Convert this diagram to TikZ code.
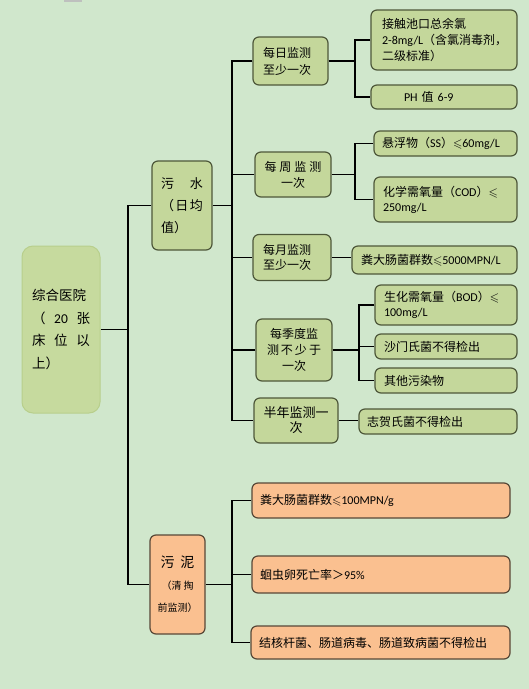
\documentclass[tikz,border=0pt]{standalone}
\usepackage{fontspec}
\usepackage{amssymb}
\setmainfont{Noto Sans CJK SC}
\newfontfamily\latfont{Carlito}
\newcommand{\ltx}[1]{\mbox{\latfont #1}}
\newcommand{\myleq}{\ensuremath{\leqslant}}
\definecolor{bgc}{RGB}{208,231,204}
\definecolor{gfill}{RGB}{196,215,155}
\definecolor{rootfill}{RGB}{198,218,158}
\definecolor{rootbd}{RGB}{184,207,140}
\definecolor{gbd}{RGB}{78,88,58}
\definecolor{ofill}{RGB}{250,192,144}
\definecolor{obd}{RGB}{88,72,55}
\definecolor{artgray}{RGB}{190,192,190}
\tikzset{
  gbox/.style={draw=gbd, fill=gfill, line width=1.2pt, rounded corners=6pt,
    inner ysep=0pt, align=left, font=\fontsize{12}{16}\selectfont},
  obox/.style={draw=obd, fill=ofill, line width=1.2pt, rounded corners=6pt,
    inner ysep=0pt, align=left, font=\fontsize{12}{16}\selectfont},
  rootbox/.style={draw=rootbd, fill=rootfill, line width=1pt, rounded corners=11pt,
    inner ysep=0pt, align=left, font=\fontsize{13.5}{22.5}\selectfont},
  conn/.style={line width=1.1pt, black},
}
\begin{document}
\begin{tikzpicture}[x=1pt,y=-1pt]
\useasboundingbox (0,0) rectangle (529,689);
\fill[bgc] (0,0) rectangle (529,689);
\fill[artgray] (64,0) rectangle (82,2);

% root
\node[rootbox, minimum width=78pt, minimum height=167pt, inner xsep=10pt, text width=58pt] (root) at (61,329.5)
  {综合医院\\（\hfill\ltx{20}\hfill 张\\床\hfill 位\hfill 以\\上）};

% level 1
\node[gbox, minimum width=60pt, minimum height=89pt, inner xsep=9pt, text width=42pt, font=\fontsize{13}{22}\selectfont] (wushui) at (182,205.5)
  {污\hfill 水\\（\hfill 日\hfill 均\\值）};
\node[obox, minimum width=55pt, minimum height=99pt, inner xsep=3pt, text width=49pt, align=center, font=\fontsize{10}{22}\selectfont] (wuni) at (177.5,584.5)
  {{\fontsize{14}{22}\selectfont 污\hspace{6pt}泥}\\（清\hspace{2pt}掏\\前监测）};

% level 2
\node[gbox, minimum width=75pt, minimum height=48pt, inner xsep=10pt, text width=55pt, font=\fontsize{12}{17}\selectfont] (meiri) at (290.5,61)
  {每日监测\\至少一次};
\node[gbox, minimum width=76pt, minimum height=45pt, inner xsep=6pt, text width=64pt, align=center] (meizhou) at (293,174.5)
  {每\hspace{3pt}周\hspace{3pt}监\hspace{3pt}测\\一次};
\node[gbox, minimum width=78pt, minimum height=46pt, inner xsep=10pt, text width=58pt, font=\fontsize{12}{15}\selectfont] (meiyue) at (292,257.5)
  {每月监测\\至少一次};
\node[gbox, minimum width=76pt, minimum height=62pt, inner xsep=6pt, text width=64pt, align=center] (jidu) at (294,350)
  {每季度监\\测\hspace{2pt}不\hspace{2pt}少\hspace{2pt}于\\一次};
\node[gbox, minimum width=84pt, minimum height=45pt, inner xsep=6pt, text width=72pt, align=center, font=\fontsize{13}{15}\selectfont] (bannian) at (296,420.5)
  {半年监测一\\次};

% level 3 (water)
\node[gbox, minimum width=146pt, minimum height=60pt, inner xsep=11pt, text width=124pt] (yulv) at (444,40)
  {接触池口总余氯\\\ltx{2-8mg/L}（含氯消毒剂，\\二级标准）};
\node[gbox, minimum width=146pt, minimum height=24pt, inner xsep=11pt, text width=124pt] (ph) at (444,97)
  {\hspace*{22pt}\ltx{PH} 值 \ltx{6-9}};
\node[gbox, minimum width=143pt, minimum height=25pt, inner xsep=8pt, text width=127pt] (ss) at (445.5,143.5)
  {悬浮物（\ltx{SS}）\myleq\ltx{60mg/L}};
\node[gbox, minimum width=143pt, minimum height=45pt, inner xsep=9pt, text width=125pt, font=\fontsize{12}{15}\selectfont] (cod) at (445.5,199.5)
  {化学需氧量（\ltx{COD}）\myleq\\\ltx{250mg/L}};
\node[gbox, minimum width=165pt, minimum height=28pt, inner xsep=9pt, text width=147pt] (fdc1) at (434.5,260)
  {粪大肠菌群数\myleq\ltx{5000MPN/L}};
\node[gbox, minimum width=142pt, minimum height=40pt, inner xsep=9pt, text width=124pt, font=\fontsize{12}{15}\selectfont] (bod) at (446,305)
  {生化需氧量（\ltx{BOD}）\myleq\\\ltx{100mg/L}};
\node[gbox, minimum width=142pt, minimum height=25pt, inner xsep=9pt, text width=124pt] (smsh) at (446,346.5)
  {沙门氏菌不得检出};
\node[gbox, minimum width=142pt, minimum height=25pt, inner xsep=9pt, text width=124pt] (qita) at (446,380.5)
  {其他污染物};
\node[gbox, minimum width=158pt, minimum height=25pt, inner xsep=8pt, text width=142pt] (zhh) at (438,421.5)
  {志贺氏菌不得检出};

% level 3 (sludge)
\node[obox, minimum width=258pt, minimum height=35pt, inner xsep=8pt, text width=242pt] (s1) at (381,500.5)
  {粪大肠菌群数\myleq\ltx{100MPN/g}};
\node[obox, minimum width=258pt, minimum height=37pt, inner xsep=8pt, text width=242pt] (s2) at (381,574.5)
  {蛔虫卵死亡率＞\ltx{95\%}};
\node[obox, minimum width=259pt, minimum height=33pt, inner xsep=8pt, text width=243pt] (s3) at (380.5,642.5)
  {结核杆菌、肠道病毒、肠道致病菌不得检出};

% junction columns
\coordinate (j0) at (128,0);
\coordinate (j1) at (232,0);
\coordinate (j2) at (355,0);
\coordinate (j3) at (359,0);

% connectors
\draw[conn] (root.east) -- (root.east -| j0);
\draw[conn] (wushui.west) -- (wushui.west -| j0) -- (wuni.west -| j0) -- (wuni.west);
\draw[conn] (wushui.east) -- (wushui.east -| j1);
\draw[conn] (meiri.west) -- (meiri.west -| j1) -- (bannian.west -| j1) -- (bannian.west);
\draw[conn] (meizhou.west) -- (meizhou.west -| j1);
\draw[conn] (meiyue.west) -- (meiyue.west -| j1);
\draw[conn] (jidu.west) -- (jidu.west -| j1);
\draw[conn] (meiri.east) -- (meiri.east -| j2);
\draw[conn] (yulv.west) -- (yulv.west -| j2) -- (ph.west -| j2) -- (ph.west);
\draw[conn] (meizhou.east) -- (meizhou.east -| j2);
\draw[conn] (ss.west) -- (ss.west -| j2) -- (cod.west -| j2) -- (cod.west);
\draw[conn] (meiyue.east) -- (meiyue.east -| fdc1.west);
\draw[conn] (jidu.east) -- (jidu.east -| j3);
\draw[conn] (bod.west) -- (bod.west -| j3) -- (qita.west -| j3) -- (qita.west);
\draw[conn] (smsh.west) -- (smsh.west -| j3);
\draw[conn] (bannian.east) -- (bannian.east -| zhh.west);
\draw[conn] (wuni.east) -- (wuni.east -| j1);
\draw[conn] (s1.west) -- (s1.west -| j1) -- (s3.west -| j1) -- (s3.west);
\draw[conn] (s2.west) -- (s2.west -| j1);
\end{tikzpicture}
\end{document}
